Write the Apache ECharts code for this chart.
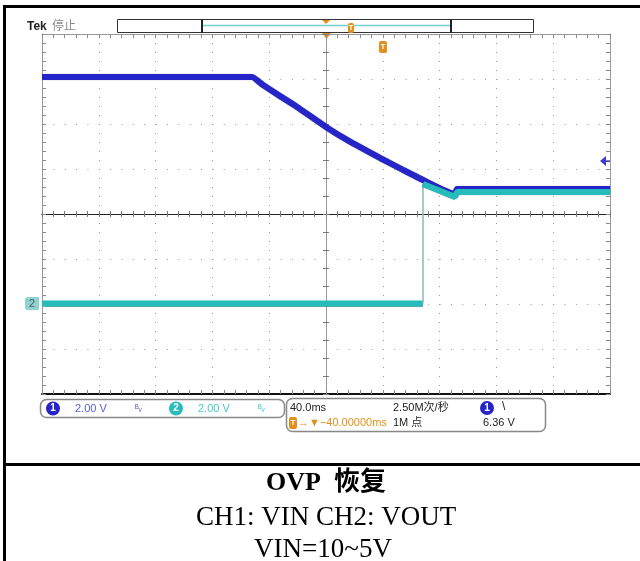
<!DOCTYPE html>
<html>
<head>
<meta charset="utf-8">
<script src="https://cdn.jsdelivr.net/npm/echarts@6/dist/echarts.min.js"></script>
<style>
  html, body { margin: 0; padding: 0; background: #fff; }
  #myEcharts { width: 640px; height: 561px; }
</style>
</head>
<body>
<div id="myEcharts"></div>
<script>
// time in ms (40 ms/div, trigger at centre), volts (2 V/div, both grounds at 0 V)
const ch1Time = [-200, -52.1, -44.4, -32.4, -20.4, 0, 14.8, 38, 54.2, 68.3, 90.8, 92.3, 200];
const ch1Volt = [10.09, 10.09, 9.73, 9.24, 8.76, 7.87, 7.29, 6.49, 5.96, 5.51, 4.89, 5.11, 5.11];
const ch2LowTime = [-200, 68.3];
const ch2LowVolt = [0.02, 0.02];
const ch2EdgeTime = [68.3, 68.3];
const ch2EdgeVolt = [0.02, 5.33];
const ch2HighTime = [68.3, 90.8, 92.3, 200];
const ch2HighVolt = [5.33, 4.76, 4.98, 4.98];

const captionLines = ['OVP  恢复', 'CH1: VIN CH2: VOUT', 'VIN=10~5V'];

function pairs (t, v) {
    return t.map(function (x, i) { return [x, v[i]]; });
}

let chartDom = document.getElementById('myEcharts');
let myChart = echarts.init(chartDom, null, { renderer: 'canvas' });

const plot = { left: 42, top: 34, width: 568, height: 360 };
const orange = '#e28f1c';
const blue = '#2626c8';
const cyan = '#26bcbc';
const uiFont = '"Liberation Sans", "Noto Sans CJK SC", sans-serif';

// one edge of the graticule
function edgeAxis (pos, lineColor, lineWidth, grid) {
    return {
        type: 'value', gridIndex: grid, position: pos,
        axisLine: { show: true, onZero: false, lineStyle: { color: lineColor, width: lineWidth } },
        axisTick: { show: true, inside: true, length: 4, lineStyle: { color: '#888' } },
        minorTick: { show: true, splitNumber: 5, length: 4, lineStyle: { color: '#888' } },
        axisLabel: { show: false },
        splitLine: { show: false }
    };
}

const xAxis = [];
const yAxis = [];

// grid 0 : outer frame + dotted grid
let xb = edgeAxis('bottom', '#111', 2, 0);
xb.min = -200; xb.max = 200; xb.interval = 40;
xb.splitLine = { show: true, lineStyle: { color: '#999', width: 1, type: [1, 8] } };
xAxis.push(xb);
let xt = edgeAxis('top', '#999', 1, 0);
xt.min = -200; xt.max = 200; xt.interval = 40;
xAxis.push(xt);

let yl = edgeAxis('left', '#999', 1, 0);
yl.min = -4; yl.max = 12; yl.interval = 2;
yl.splitLine = { show: true, lineStyle: { color: '#999', width: 1, type: [1, 10.36] } };
yAxis.push(yl);
let yr = edgeAxis('right', '#999', 1, 0);
yr.min = -4; yr.max = 12; yr.interval = 2;
yAxis.push(yr);

// grid 1 : centre cross with ticks on both sides
function centreAxis (pos, lineColor) {
    return {
        type: 'value', gridIndex: 1, position: pos,
        axisLine: { show: true, onZero: true, lineStyle: { color: lineColor, width: 1 } },
        axisTick: { show: true, inside: false, length: 3, lineStyle: { color: '#777' } },
        minorTick: { show: true, splitNumber: 5, length: 3, lineStyle: { color: '#777' } },
        axisLabel: { show: false },
        splitLine: { show: false }
    };
}
let xc1 = centreAxis('bottom', '#222');
let xc2 = centreAxis('top', '#222');
[xc1, xc2].forEach(function (a) { a.min = -200; a.max = 200; a.interval = 40; xAxis.push(a); });
let yc1 = centreAxis('left', '#999');
let yc2 = centreAxis('right', '#999');
[yc1, yc2].forEach(function (a) { a.min = -4; a.max = 4; a.interval = 2; yAxis.push(a); });

const grid = [
    { left: plot.left, top: plot.top, width: plot.width, height: plot.height, containLabel: false },
    { left: plot.left, top: plot.top, width: plot.width, height: plot.height, containLabel: false }
];

const series = [
    {
        type: 'line', name: 'CH1', data: pairs(ch1Time, ch1Volt), showSymbol: false,
        xAxisIndex: 0, yAxisIndex: 0, z: 3, animation: false, smooth: 0.15,
        lineStyle: { color: blue, width: 6, shadowColor: 'rgba(0,0,60,0.6)', shadowBlur: 1 }
    },
    {
        type: 'line', name: 'CH2', data: pairs(ch2LowTime, ch2LowVolt), showSymbol: false,
        xAxisIndex: 0, yAxisIndex: 0, z: 4, animation: false,
        lineStyle: { color: cyan, width: 6, shadowColor: 'rgba(0,60,60,0.5)', shadowBlur: 1 }
    },
    {
        type: 'line', name: 'CH2 edge', data: pairs(ch2EdgeTime, ch2EdgeVolt), showSymbol: false,
        xAxisIndex: 0, yAxisIndex: 0, z: 4, animation: false,
        lineStyle: { color: '#8cb8b8', width: 1.5 }
    },
    {
        type: 'line', name: 'CH2 high', data: pairs(ch2HighTime, ch2HighVolt), showSymbol: false,
        xAxisIndex: 0, yAxisIndex: 0, z: 4, animation: false,
        lineStyle: { color: cyan, width: 6, shadowColor: 'rgba(0,60,60,0.5)', shadowBlur: 1 }
    }
];

function chanBadge (cx, cy, num, fill) {
    return [
        { type: 'circle', shape: { cx: cx, cy: cy, r: 7 }, style: { fill: fill } },
        { type: 'text', x: cx, y: cy, style: { text: num, fill: '#fff', font: 'bold 10px ' + uiFont, align: 'center', verticalAlign: 'middle' } }
    ];
}
function tMarker (x, y, w, h) {
    return [
        { type: 'rect', shape: { x: x, y: y, width: w, height: h, r: 2 }, style: { fill: orange } },
        { type: 'text', x: x + w / 2, y: y + h / 2, style: { text: 'T', fill: '#fff', font: 'bold 8px ' + uiFont, align: 'center', verticalAlign: 'middle' } }
    ];
}
function uiText (x, y, text, color, size) {
    return { type: 'text', x: x, y: y, style: { text: text, fill: color, font: (size || 11) + 'px ' + uiFont, verticalAlign: 'middle' } };
}

let graphic = [];
// document table lines
graphic.push({ type: 'line', shape: { x1: 3, y1: 6.5, x2: 640, y2: 6.5 }, style: { stroke: '#000', lineWidth: 3 } });
graphic.push({ type: 'line', shape: { x1: 4.5, y1: 5, x2: 4.5, y2: 561 }, style: { stroke: '#000', lineWidth: 3 } });
graphic.push({ type: 'line', shape: { x1: 3, y1: 464.5, x2: 640, y2: 464.5 }, style: { stroke: '#000', lineWidth: 3 } });
// caption
graphic.push({ type: 'text', x: 326, y: 483, style: { text: captionLines[0], fill: '#000', font: 'bold 26px "Liberation Serif", "Noto Sans CJK SC", serif', align: 'center', verticalAlign: 'middle' } });
graphic.push({ type: 'text', x: 326, y: 518, style: { text: captionLines[1], fill: '#000', font: '27px "Liberation Serif", serif', align: 'center', verticalAlign: 'middle' } });
graphic.push({ type: 'text', x: 323, y: 550, style: { text: captionLines[2], fill: '#000', font: '27px "Liberation Serif", serif', align: 'center', verticalAlign: 'middle' } });

// scope header
graphic.push({ type: 'text', x: 27, y: 27, style: { text: 'Tek', fill: '#222', font: 'bold 12px ' + uiFont, verticalAlign: 'middle' } });
graphic.push(uiText(52, 27, '停止', '#8a8a8a', 12));
graphic.push({ type: 'rect', shape: { x: 117.5, y: 19.5, width: 416, height: 13 }, style: { fill: '#fff', stroke: '#333', lineWidth: 1 } });
graphic.push({ type: 'line', shape: { x1: 202, y1: 25.5, x2: 451, y2: 25.5 }, style: { stroke: '#6fd0d0', lineWidth: 1.5 } });
graphic.push({ type: 'line', shape: { x1: 202, y1: 19, x2: 202, y2: 33 }, style: { stroke: '#222', lineWidth: 2 } });
graphic.push({ type: 'line', shape: { x1: 451, y1: 19, x2: 451, y2: 33 }, style: { stroke: '#222', lineWidth: 2 } });
graphic.push({ type: 'polygon', shape: { points: [[322, 20], [330, 20], [326, 24]] }, style: { fill: orange } });
graphic = graphic.concat(tMarker(348, 23, 6, 10));
graphic.push({ type: 'polygon', shape: { points: [[322, 33], [331, 33], [326.5, 39]] }, style: { fill: orange } });
graphic = graphic.concat(tMarker(379, 41, 8, 12));

// ground marker CH2 and trigger level arrow
graphic.push({ type: 'rect', shape: { x: 25, y: 297, width: 14, height: 13, r: [3, 1, 1, 3] }, style: { fill: '#8fd2d2' } });
graphic.push({ type: 'text', x: 32, y: 304, style: { text: '2', fill: '#555', font: '11px ' + uiFont, align: 'center', verticalAlign: 'middle' } });
graphic.push({ type: 'polygon', shape: { points: [[600, 161], [606, 156], [606, 166]] }, style: { fill: '#3a3ad6' } });
graphic.push({ type: 'line', shape: { x1: 604, y1: 161, x2: 610, y2: 161 }, style: { stroke: '#3a3ad6', lineWidth: 2 } });

// status bar
graphic.push({ type: 'rect', shape: { x: 40.5, y: 399.5, width: 244, height: 18, r: 6 }, style: { fill: '#fff', stroke: '#888', lineWidth: 1.5 } });
graphic = graphic.concat(chanBadge(53, 408.5, '1', blue));
graphic.push(uiText(75, 408.5, '2.00 V', '#5a5ae0'));
graphic.push(uiText(135, 408.5, 'ᴮᵥ', '#5a5ae0', 9));
graphic = graphic.concat(chanBadge(176, 408.5, '2', cyan));
graphic.push(uiText(198, 408.5, '2.00 V', '#45c8c8'));
graphic.push(uiText(258, 408.5, 'ᴮᵥ', '#45c8c8', 9));

graphic.push({ type: 'rect', shape: { x: 286.5, y: 398.5, width: 259, height: 33, r: 6 }, style: { fill: '#fff', stroke: '#888', lineWidth: 1.5 } });
graphic.push(uiText(290, 408, '40.0ms', '#222'));
graphic.push(uiText(393, 408, '2.50M次/秒', '#222'));
graphic = graphic.concat(chanBadge(487, 408, '1', blue));
graphic.push(uiText(502, 407, '\\', '#222', 12));
graphic = graphic.concat(tMarker(289, 417, 8, 12));
graphic.push(uiText(298, 423, '→▼−40.00000ms', orange));
graphic.push(uiText(393, 423, '1M 点', '#222'));
graphic.push(uiText(483, 423, '6.36 V', '#222'));

let option = {
    backgroundColor: '#fff',
    animation: false,
    grid: grid,
    xAxis: xAxis,
    yAxis: yAxis,
    series: series,
    graphic: graphic
};

option && myChart.setOption(option);
</script>
</body>
</html>
